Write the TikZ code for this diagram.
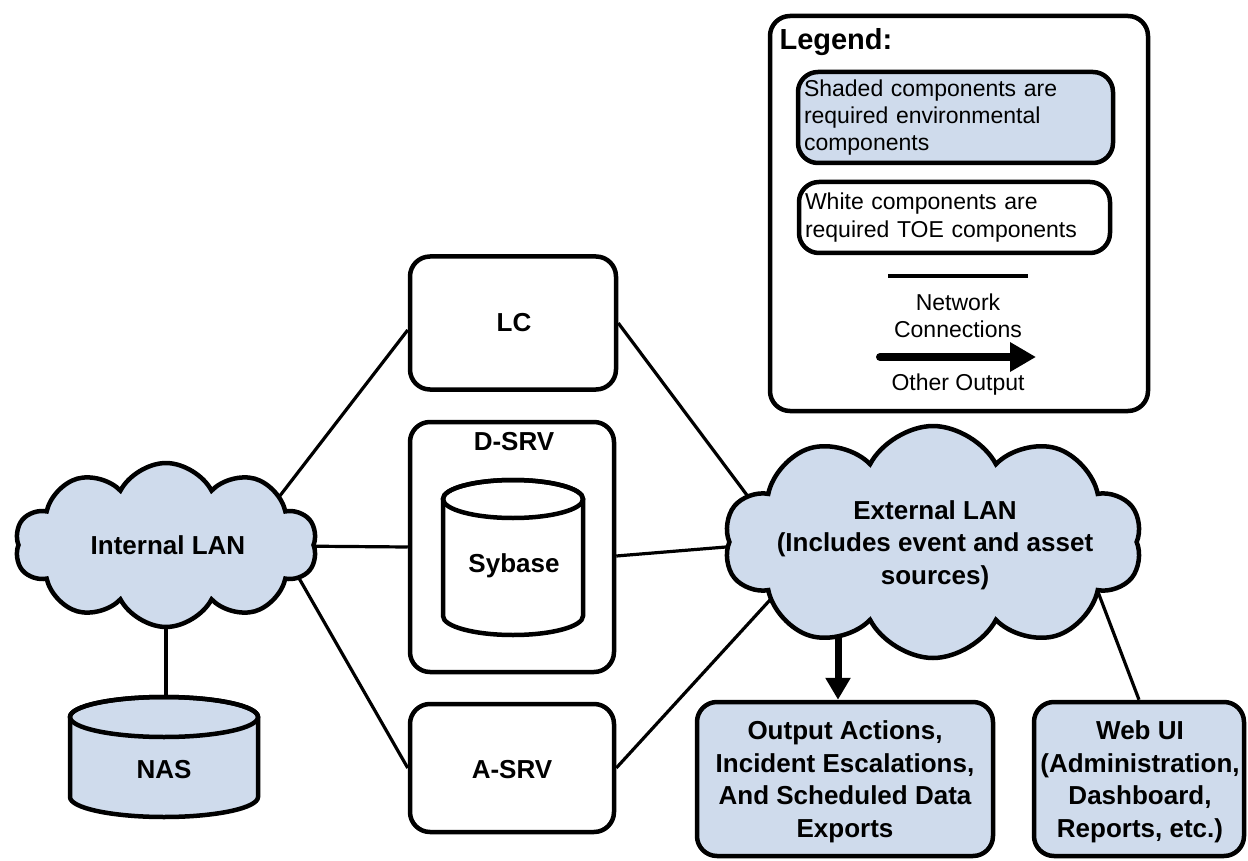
\documentclass[tikz,border=0pt]{standalone}
\usepackage{fontspec}
\setmainfont{Liberation Sans}
\usetikzlibrary{shapes.symbols,arrows.meta,backgrounds}
\definecolor{shade}{RGB}{207,219,236}
\begin{document}
\begin{tikzpicture}[x=1pt,y=1pt,
  box/.style={draw, line width=4.5pt, rounded corners=20pt, fill=white},
  shadebox/.style={box, fill=shade},
  netcloud/.style={cloud, cloud puffs=10, cloud puff arc=125, cloud ignores aspect,
    draw, line width=4.5pt, fill=shade},
  lbl/.style={font=\fontsize{26}{32.5}\selectfont\bfseries, align=center},
  legtxt/.style={font=\fontsize{23}{27.3}\selectfont},
  wire/.style={line width=3.2pt},
  outarrow/.style={line width=7pt, -{Triangle[length=22pt,width=24pt]}}
]
\useasboundingbox (0,0) rectangle (1248,-861);

% ---- legend ----
\node[box, minimum width=378pt, minimum height=395pt] (legend) at (959,-213.5) {};
\node[anchor=base west, font=\fontsize{29}{34}\selectfont\bfseries] (legtitle) at (776,-50) {Legend:};
\node[shadebox, minimum width=315pt, minimum height=91pt, text width=303pt,
      inner xsep=6pt, align=left, legtxt, anchor=center] (legshade) at (955.5,-117.5)
  {Shaded components are\\required environmental\\components};
\node[box, minimum width=311pt, minimum height=71pt, text width=299pt,
      inner xsep=6pt, align=left, legtxt] (legwhite) at (954.5,-217.5)
  {White components are\\required TOE components};
\coordinate (netA) at (888,-276);
\coordinate (netB) at (1028,-276);
\draw[wire] (netA) -- (netB);
\node[legtxt, align=center] (nettxt) at (958,-316) {Network\\Connections};
\coordinate (outA) at (880,-357);
\coordinate (outB) at (1036,-357);
\draw[line width=8pt, line cap=round, -{Triangle[length=26pt,width=28pt]}] (outA) -- (outB);
\node[legtxt] (othtxt) at (958,-385) {Other Output};

% ---- network clouds ----
\node[netcloud, minimum width=302pt, minimum height=164pt] (int) at (166,-545) {};
\node[lbl] (inttxt) at (168,-545) {Internal LAN};
\node[netcloud, minimum width=418pt, minimum height=232pt] (ext) at (933,-542) {};
\node[lbl] (exttxt) at (935,-545) {External LAN\\(Includes event and asset\\sources)};

% ---- servers ----
\node[box, minimum width=206pt, minimum height=133pt] (lc) at (513,-323) {};
\node[lbl] (lctxt) at (514,-323) {LC};
\node[box, minimum width=204pt, minimum height=250pt] (dsrv) at (512,-547) {};
\node[lbl] (dsrvtxt) at (514,-442) {D-SRV};
\node[box, minimum width=204pt, minimum height=128pt] (asrv) at (512,-768) {};
\node[lbl] (asrvtxt) at (512,-770) {A-SRV};

% Sybase database drawn inside D-SRV
\filldraw[fill=white, line width=4.5pt]
  (443,-499) -- (443,-616) arc[start angle=180, end angle=360, x radius=70, y radius=19]
  -- (583,-499) arc[start angle=0, end angle=180, x radius=70, y radius=19] -- cycle;
\draw[line width=4.5pt] (513,-499) ellipse[x radius=70, y radius=19];
\node[lbl] (sybase) at (514,-566) {Sybase};

% NAS storage
\filldraw[fill=shade, line width=4.5pt]
  (70,-717) -- (70,-797) arc[start angle=180, end angle=360, x radius=94, y radius=20]
  -- (258,-717) arc[start angle=0, end angle=180, x radius=94, y radius=20] -- cycle;
\draw[line width=4.5pt] (164,-717) ellipse[x radius=94, y radius=20];
\coordinate (nastop) at (166,-697);
\node[lbl] (nas) at (164,-770) {NAS};

% ---- outputs ----
\node[shadebox, minimum width=296pt, minimum height=154pt] (out) at (845,-779) {};
\node[lbl] (outtxt) at (845,-782) {Output Actions,\\Incident Escalations,\\And Scheduled Data\\Exports};
\node[shadebox, minimum width=210pt, minimum height=154pt] (web) at (1139,-779) {};
\node[lbl] (webtxt) at (1140,-782) {Web UI\\(Administration,\\Dashboard,\\Reports, etc.)};

% ---- connections ----
\begin{scope}[on background layer]
  \draw[wire] ([xshift=76pt]int.center) -- ([yshift=-7pt]lc.west);
  \draw[wire] (int.center) -- (dsrv.west);
  \draw[wire] ([xshift=114pt]int.center) -- (asrv.west);
  \draw[wire] (int.center -| nastop) -- (nastop);
  \draw[wire] (lc.east) -- ([xshift=-151pt]ext.center);
  \draw[wire] ([yshift=-9pt]dsrv.east) -- ([yshift=12pt]ext.center);
  \draw[wire] (asrv.east) -- ([xshift=-110pt]ext.center);
  \draw[wire] ([xshift=146pt]ext.center) -- (web.north);
  \draw[outarrow] ([xshift=-7pt]out.north |- ext.center) -- ([xshift=-7pt]out.north);
\end{scope}
\end{tikzpicture}
\end{document}
